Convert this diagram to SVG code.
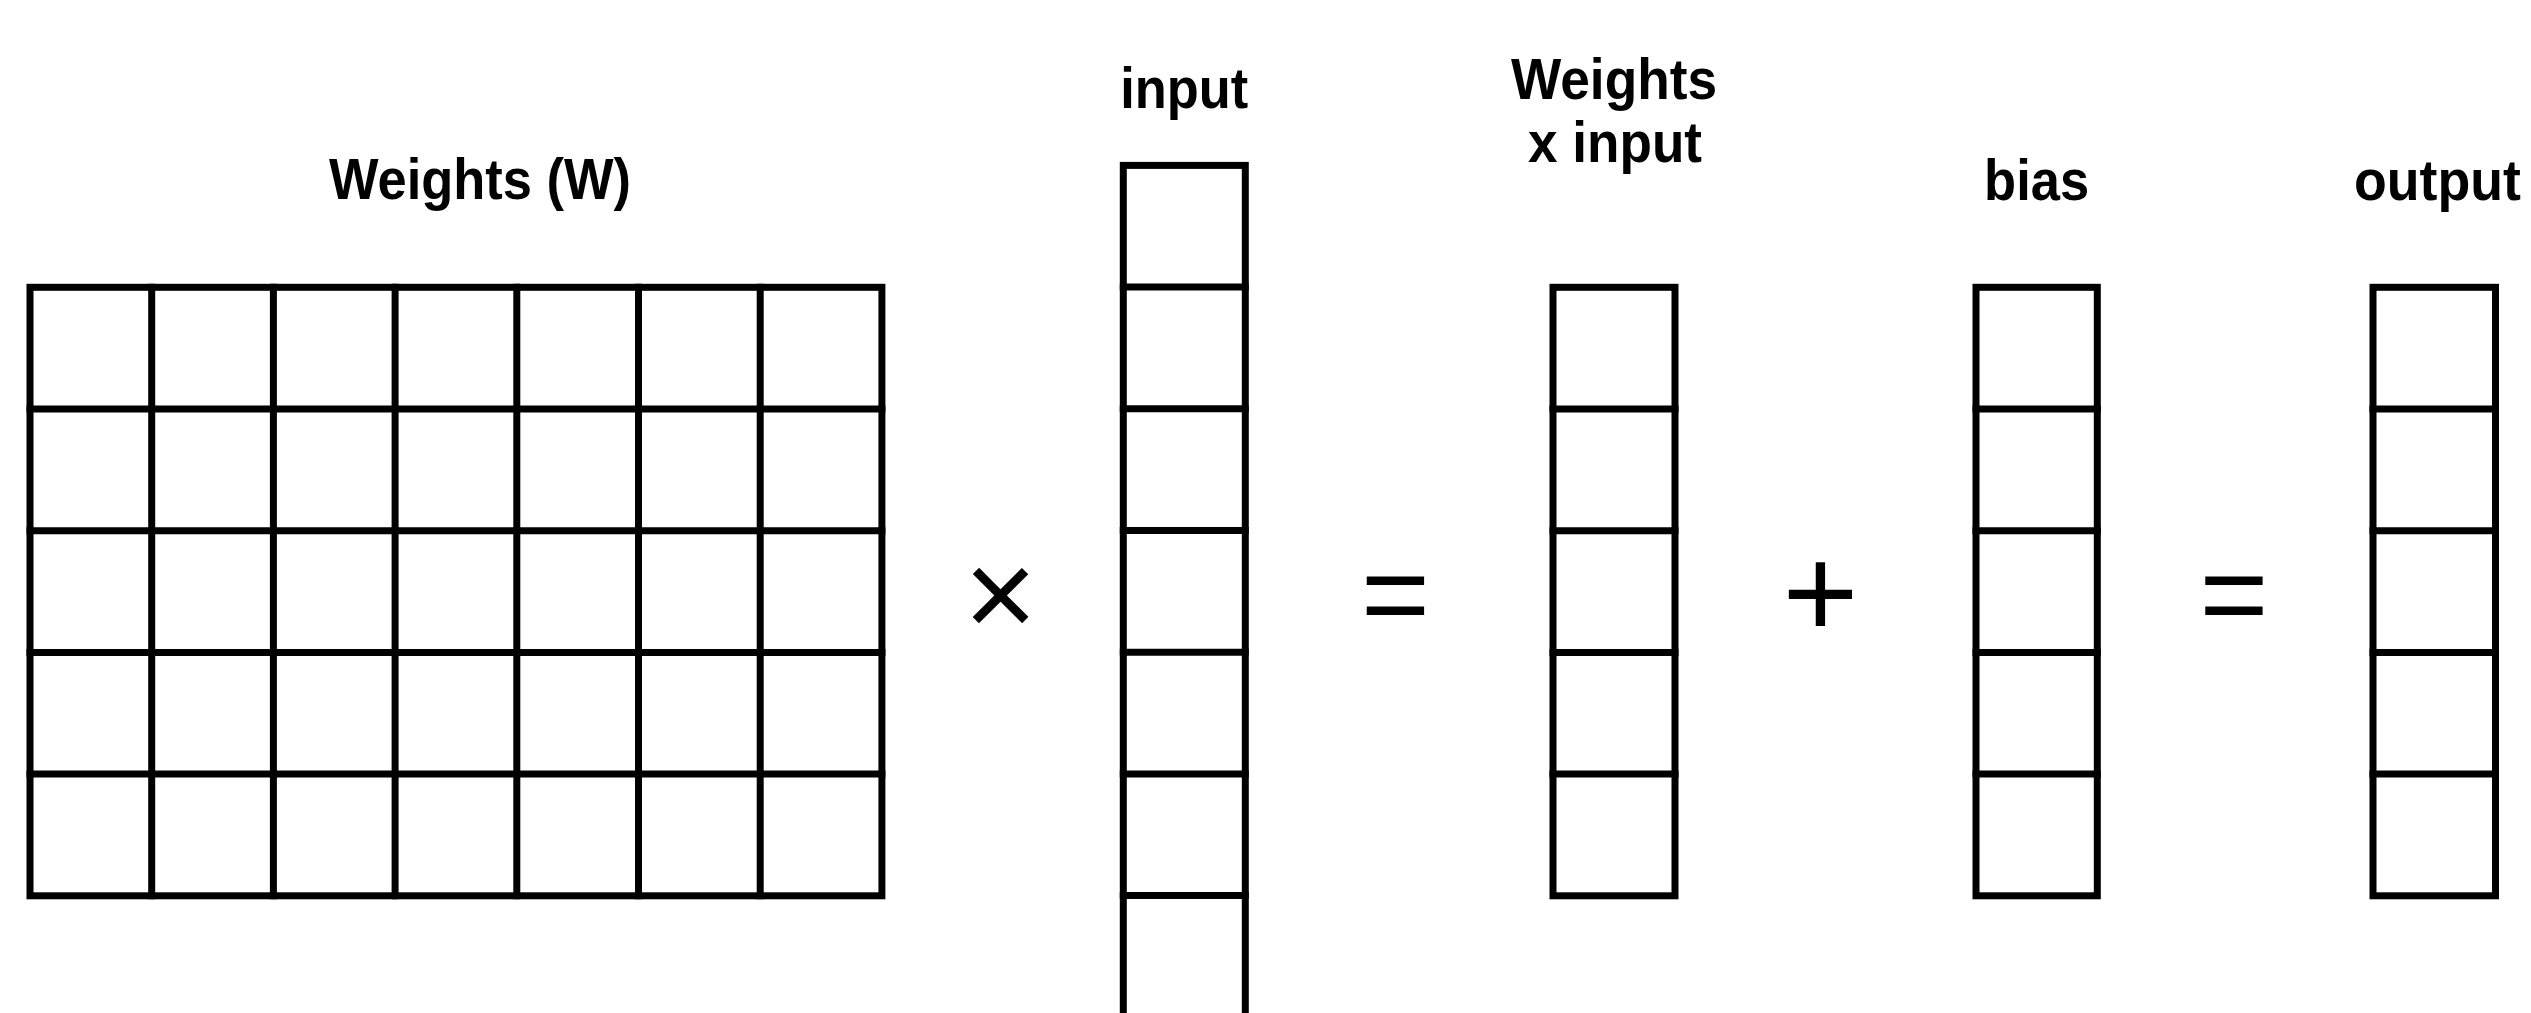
<svg xmlns="http://www.w3.org/2000/svg" width="2531" height="1013" viewBox="0 0 2531 1013">
  <style>
    .cell { fill: none; stroke: #000; stroke-width: 7; stroke-linecap: square; stroke-linejoin: miter; }
    .label { font-family: "Liberation Sans", Arial, Helvetica, sans-serif; font-weight: 700; font-size: 58px; fill: #000; text-anchor: middle; }
    .op { font-family: "Liberation Sans", Arial, Helvetica, sans-serif; font-weight: 400; fill: #000; text-anchor: middle; }
  </style>
  <rect width="2531" height="1013" fill="#fff"/>

  <!-- weight matrix: 7 columns x 5 rows, pitch 121.7 -->
  <g id="weights">
    <rect class="cell" x="30" y="287.3" width="851.9" height="608.5"/>
    <path class="cell" d="M151.7 287.3V895.8M273.4 287.3V895.8M395.1 287.3V895.8M516.8 287.3V895.8M638.5 287.3V895.8M760.2 287.3V895.8
                          M30 409H881.9M30 530.7H881.9M30 652.4H881.9M30 774.1H881.9"/>
    <text class="label" x="480" y="199" textLength="302" lengthAdjust="spacingAndGlyphs">Weights (W)</text>
  </g>

  <!-- input vector: 7 cells, runs past the bottom edge -->
  <g id="input">
    <rect class="cell" x="1123.3" y="165.4" width="122" height="851.9"/>
    <path class="cell" d="M1123.3 287.1H1245.3M1123.3 408.8H1245.3M1123.3 530.5H1245.3M1123.3 652.2H1245.3M1123.3 773.9H1245.3M1123.3 895.6H1245.3"/>
    <text class="label" x="1184.3" y="108" textLength="128" lengthAdjust="spacingAndGlyphs">input</text>
  </g>

  <!-- product vector W x input: 5 cells -->
  <g id="weights-x-input">
    <rect class="cell" x="1553" y="287.3" width="122" height="608.5"/>
    <path class="cell" d="M1553 409H1675M1553 530.7H1675M1553 652.4H1675M1553 774.1H1675"/>
    <text class="label" x="1614" y="99" textLength="206" lengthAdjust="spacingAndGlyphs">Weights</text>
    <text class="label" x="1615" y="162" textLength="174" lengthAdjust="spacingAndGlyphs">x input</text>
  </g>

  <!-- bias vector: 5 cells -->
  <g id="bias">
    <rect class="cell" x="1976" y="287.3" width="121.3" height="608.5"/>
    <path class="cell" d="M1976 409H2097.3M1976 530.7H2097.3M1976 652.4H2097.3M1976 774.1H2097.3"/>
    <text class="label" x="2036.6" y="200" textLength="105" lengthAdjust="spacingAndGlyphs">bias</text>
  </g>

  <!-- output vector: 5 cells -->
  <g id="output">
    <rect class="cell" x="2373" y="287.3" width="122.5" height="608.5"/>
    <path class="cell" d="M2373 409H2495.5M2373 530.7H2495.5M2373 652.4H2495.5M2373 774.1H2495.5"/>
    <text class="label" x="2437.5" y="200" textLength="167" lengthAdjust="spacingAndGlyphs">output</text>
  </g>

  <!-- operators between the matrices -->
  <g id="operators">
    <text class="op" x="1000.5" y="637" font-size="125">×</text>
    <text class="op" x="1395.5" y="635" font-size="118">=</text>
    <text class="op" x="1820.5" y="637" font-size="130">+</text>
    <text class="op" x="2234" y="635" font-size="118">=</text>
  </g>
</svg>
